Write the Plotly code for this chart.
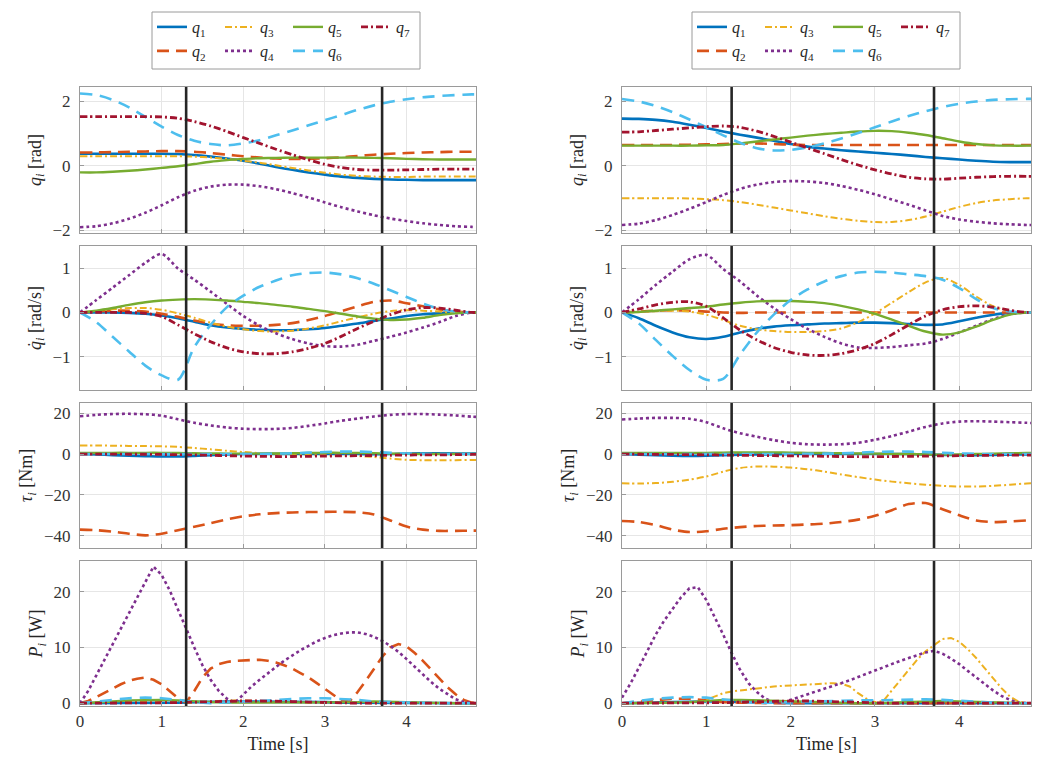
import plotly.graph_objects as go

# ---------------- time grids ----------------
T = [0, 0.2, 0.4, 0.6, 0.8, 1.0, 1.2, 1.4, 1.6, 1.8, 2.0, 2.2, 2.4, 2.6, 2.8,
     3.0, 3.2, 3.4, 3.6, 3.8, 4.0, 4.2, 4.4, 4.6, 4.8, 4.85]
TP = [0, 0.1, 0.2, 0.3, 0.4, 0.5, 0.6, 0.7, 0.8, 0.9, 1.0, 1.1, 1.2, 1.3, 1.4,
      1.5, 1.6, 1.7, 1.8, 1.9, 2.0, 2.1, 2.2, 2.3, 2.4, 2.5, 2.6, 2.7, 2.8, 2.9,
      3.0, 3.1, 3.2, 3.3, 3.4, 3.5, 3.6, 3.7, 3.8, 3.9, 4.0, 4.1, 4.2, 4.3, 4.4,
      4.5, 4.6, 4.7, 4.8, 4.85]
PHASES = [1.3, 3.7]
X_TICKS = [0, 1, 2, 3, 4]

# ---------------- left column: joint positions q_i [rad] ----------------
L_POS_Q1 = [0.38, 0.38, 0.38, 0.38, 0.38, 0.38, 0.37, 0.34, 0.29, 0.23, 0.16, 0.07, -0.03, -0.12, -0.2, -0.27, -0.33, -0.37, -0.4, -0.42, -0.43, -0.44, -0.44, -0.44, -0.44, -0.44]
L_POS_Q2 = [0.42, 0.42, 0.43, 0.44, 0.45, 0.46, 0.46, 0.44, 0.4, 0.35, 0.3, 0.26, 0.23, 0.22, 0.22, 0.24, 0.27, 0.31, 0.35, 0.38, 0.4, 0.42, 0.43, 0.44, 0.44, 0.44]
L_POS_Q3 = [0.3, 0.3, 0.3, 0.3, 0.3, 0.3, 0.3, 0.29, 0.26, 0.22, 0.16, 0.1, 0.02, -0.06, -0.14, -0.21, -0.27, -0.31, -0.33, -0.34, -0.34, -0.33, -0.33, -0.33, -0.33, -0.33]
L_POS_Q4 = [-1.9, -1.87, -1.78, -1.64, -1.45, -1.22, -0.97, -0.77, -0.64, -0.58, -0.58, -0.63, -0.72, -0.84, -0.98, -1.13, -1.28, -1.41, -1.53, -1.63, -1.71, -1.78, -1.83, -1.87, -1.89, -1.9]
L_POS_Q5 = [-0.2, -0.2, -0.18, -0.15, -0.11, -0.06, -0.01, 0.06, 0.13, 0.18, 0.22, 0.24, 0.25, 0.26, 0.26, 0.26, 0.26, 0.26, 0.25, 0.24, 0.22, 0.21, 0.2, 0.2, 0.2, 0.2]
L_POS_Q6 = [2.25, 2.2, 2.05, 1.82, 1.52, 1.22, 0.96, 0.78, 0.68, 0.64, 0.7, 0.8, 0.95, 1.1, 1.26, 1.42, 1.58, 1.74, 1.88, 1.99, 2.07, 2.13, 2.17, 2.2, 2.22, 2.22]
L_POS_Q7 = [1.53, 1.53, 1.53, 1.53, 1.53, 1.52, 1.48, 1.38, 1.24, 1.07, 0.88, 0.7, 0.52, 0.35, 0.19, 0.05, -0.05, -0.11, -0.13, -0.13, -0.12, -0.11, -0.1, -0.1, -0.1, -0.1]

# ---------------- left column: joint velocities [rad/s] ----------------
L_VEL_Q1 = [0, 0, 0, -0.01, -0.03, -0.07, -0.13, -0.21, -0.29, -0.34, -0.37, -0.39, -0.4, -0.4, -0.38, -0.35, -0.3, -0.25, -0.19, -0.14, -0.08, -0.04, -0.02, 0, 0, 0]
L_VEL_Q2 = [0, 0.02, 0.04, 0.04, 0.02, -0.03, -0.1, -0.18, -0.25, -0.29, -0.3, -0.3, -0.28, -0.24, -0.17, -0.08, 0.03, 0.14, 0.24, 0.27, 0.21, 0.14, 0.07, 0.02, 0, 0]
L_VEL_Q3 = [0, 0.03, 0.07, 0.1, 0.1, 0.06, -0.02, -0.12, -0.23, -0.32, -0.38, -0.42, -0.43, -0.41, -0.36, -0.29, -0.2, -0.11, -0.03, 0.03, 0.05, 0.04, 0.02, 0, 0, 0]
L_VEL_Q4 = [0, 0.28, 0.56, 0.84, 1.12, 1.32, 0.99, 0.74, 0.47, 0.19, -0.08, -0.3, -0.47, -0.6, -0.7, -0.76, -0.77, -0.73, -0.64, -0.55, -0.45, -0.34, -0.22, -0.08, 0, 0]
L_VEL_Q5 = [0, 0.04, 0.1, 0.17, 0.23, 0.27, 0.29, 0.3, 0.29, 0.27, 0.24, 0.21, 0.17, 0.13, 0.08, 0.03, -0.03, -0.09, -0.14, -0.17, -0.16, -0.12, -0.06, -0.02, 0, 0]
L_VEL_Q6 = [0, -0.22, -0.55, -0.88, -1.2, -1.42, -1.52, -0.78, -0.28, 0.12, 0.38, 0.58, 0.72, 0.84, 0.89, 0.9, 0.86, 0.77, 0.65, 0.5, 0.35, 0.2, 0.08, 0.02, 0, 0]
L_VEL_Q7 = [0, 0, 0, 0, -0.02, -0.09, -0.28, -0.48, -0.66, -0.8, -0.89, -0.93, -0.93, -0.89, -0.81, -0.7, -0.54, -0.36, -0.2, -0.05, 0.06, 0.11, 0.1, 0.05, 0, 0]

# ---------------- left column: joint torques [Nm] ----------------
L_TAU_Q1 = [0, -0.2, -0.5, -0.8, -1.0, -1.2, -1.2, -0.9, -0.5, -0.2, 0, 0.1, 0.1, 0.1, 0, 0, 0, 0, -0.1, 0, 0.3, 0.4, 0.4, 0.3, 0.2, 0.2]
L_TAU_Q2 = [-37.0, -37.3, -38.0, -39.0, -39.8, -39.0, -37.3, -35.6, -33.8, -32.0, -30.5, -29.5, -28.9, -28.6, -28.4, -28.3, -28.3, -28.5, -29.6, -32.5, -35.5, -37.0, -37.6, -37.6, -37.5, -37.5]
L_TAU_Q3 = [4.2, 4.2, 4.1, 4.0, 3.9, 3.8, 3.5, 3.0, 2.3, 1.6, 1.0, 0.5, 0.1, -0.2, -0.4, -0.6, -0.8, -1.0, -1.4, -2.2, -2.8, -3.0, -3.0, -3.0, -2.9, -2.9]
L_TAU_Q4 = [18.5, 19.2, 19.6, 19.7, 19.5, 18.8, 17.0, 15.3, 14.0, 13.0, 12.4, 12.2, 12.3, 12.8, 13.8, 15.0, 16.3, 17.4, 18.4, 19.2, 19.6, 19.6, 19.3, 18.9, 18.3, 18.2]
L_TAU_Q5 = [0.5, 0.5, 0.6, 0.6, 0.6, 0.6, 0.5, 0.4, 0.3, 0.2, 0.2, 0.2, 0.3, 0.4, 0.5, 0.6, 0.6, 0.5, 0.4, 0.2, 0.1, 0, 0, 0, 0, 0]
L_TAU_Q6 = [0, 0, 0, 0, 0, 0, 0, 0, 0, 0, 0, 0.1, 0.2, 0.4, 0.7, 1.0, 1.2, 1.2, 1.0, 0.6, 0.3, 0.1, 0, 0, 0, 0]
L_TAU_Q7 = [0, 0, 0, -0.1, -0.1, -0.2, -0.3, -0.4, -0.6, -0.8, -1.0, -1.1, -1.2, -1.2, -1.1, -1.0, -0.9, -0.8, -0.7, -0.6, -0.5, -0.4, -0.4, -0.3, -0.2, -0.2]

# ---------------- left column: joint power [W] ----------------
L_POW_Q1 = [0, 0, 0, 0, 0, 0, 0.1, 0.2, 0.3, 0.3, 0.3, 0.3, 0.3, 0.3, 0.2, 0.2, 0.1, 0.1, 0.1, 0.1, 0, 0, 0, 0, 0, 0]
L_POW_Q2 = [0, 0.4, 1.1, 1.9, 2.7, 3.4, 4.0, 4.4, 4.6, 4.2, 3.4, 2.2, 0.9, 0.1, 2.2, 4.6, 6.2, 7.0, 7.4, 7.6,
            7.7, 7.8, 7.8, 7.6, 7.3, 6.8, 6.2, 5.4, 4.6, 3.6, 2.6, 1.5, 0.5, 0.3, 2.0, 4.0, 6.2, 8.3, 10.0, 10.6,
            10.2, 9.0, 7.6, 6.0, 4.4, 2.9, 1.6, 0.6, 0.1, 0]
L_POW_Q3 = [0, 0.1, 0.3, 0.4, 0.4, 0.3, 0.1, 0.1, 0.3, 0.5, 0.5, 0.4, 0.2, 0.1, 0.1, 0.2, 0.2, 0.1, 0, 0, 0, 0, 0, 0, 0, 0]
L_POW_Q4 = [0, 2.2, 5.0, 7.8, 10.6, 13.4, 16.2, 19.0, 21.8, 24.5, 23.0, 20.2, 16.8, 13.3, 10.0, 6.8, 4.2, 2.2, 0.8, 0.1,
            1.5, 3.0, 4.2, 5.4, 6.5, 7.6, 8.6, 9.5, 10.3, 11.1, 11.7, 12.2, 12.5, 12.7, 12.7, 12.4, 11.9, 11.2, 10.3, 9.2,
            7.9, 6.5, 5.1, 3.8, 2.6, 1.6, 0.7, 0.2, 0, 0]
L_POW_Q5 = [0, 0.1, 0.3, 0.5, 0.6, 0.6, 0.5, 0.3, 0.2, 0.1, 0.1, 0.1, 0.1, 0.1, 0.1, 0.1, 0.1, 0.2, 0.3, 0.3, 0.2, 0.1, 0, 0, 0, 0]
L_POW_Q6 = [0, 0.3, 0.7, 0.9, 1.0, 0.9, 0.6, 0.2, 0, 0.1, 0.2, 0.4, 0.6, 0.8, 0.9, 0.9, 0.8, 0.6, 0.3, 0.2, 0.2, 0.1, 0, 0, 0, 0]
L_POW_Q7 = [0, 0, 0, 0, 0, 0, 0.1, 0.2, 0.3, 0.4, 0.4, 0.4, 0.4, 0.3, 0.2, 0.1, 0, 0, 0, 0, 0, 0, 0, 0, 0, 0]

# ---------------- right column: joint positions [rad] ----------------
R_POS_Q1 = [1.47, 1.46, 1.43, 1.37, 1.28, 1.18, 1.07, 0.97, 0.88, 0.78, 0.68, 0.6, 0.54, 0.49, 0.45, 0.41, 0.37, 0.33, 0.28, 0.24, 0.2, 0.16, 0.13, 0.12, 0.12, 0.12]
R_POS_Q2 = [0.65, 0.65, 0.65, 0.65, 0.66, 0.67, 0.68, 0.7, 0.7, 0.68, 0.66, 0.65, 0.65, 0.65, 0.65, 0.65, 0.65, 0.65, 0.65, 0.65, 0.65, 0.65, 0.65, 0.65, 0.65, 0.65]
R_POS_Q3 = [-1.0, -1.0, -1.0, -1.0, -1.01, -1.03, -1.06, -1.12, -1.2, -1.29, -1.38, -1.47, -1.56, -1.64, -1.7, -1.74, -1.74, -1.68, -1.57, -1.42, -1.27, -1.15, -1.07, -1.03, -1.0, -1.0]
R_POS_Q4 = [-1.83, -1.79, -1.68, -1.52, -1.33, -1.12, -0.9, -0.71, -0.58, -0.5, -0.47, -0.48, -0.53, -0.62, -0.74, -0.88, -1.04, -1.2, -1.38, -1.55, -1.66, -1.73, -1.78, -1.81, -1.83, -1.83]
R_POS_Q5 = [0.63, 0.63, 0.63, 0.63, 0.63, 0.64, 0.65, 0.7, 0.76, 0.82, 0.88, 0.94, 0.99, 1.03, 1.07, 1.09, 1.08, 1.03, 0.96, 0.86, 0.76, 0.68, 0.64, 0.63, 0.63, 0.63]
R_POS_Q6 = [2.08, 2.0, 1.86, 1.67, 1.44, 1.2, 0.95, 0.72, 0.55, 0.48, 0.5, 0.58, 0.7, 0.85, 1.02, 1.2, 1.38, 1.55, 1.7, 1.83, 1.93, 2.0, 2.05, 2.07, 2.08, 2.08]
R_POS_Q7 = [1.05, 1.06, 1.1, 1.14, 1.18, 1.22, 1.24, 1.2, 1.08, 0.92, 0.74, 0.56, 0.38, 0.2, 0.03, -0.12, -0.25, -0.35, -0.4, -0.41, -0.38, -0.35, -0.33, -0.32, -0.32, -0.32]

# ---------------- right column: joint velocities [rad/s] ----------------
R_VEL_Q1 = [0, -0.13, -0.3, -0.45, -0.56, -0.6, -0.55, -0.45, -0.37, -0.32, -0.29, -0.27, -0.25, -0.24, -0.23, -0.23, -0.24, -0.26, -0.28, -0.27, -0.2, -0.12, -0.05, -0.01, 0, 0]
R_VEL_Q2 = [0, 0.02, 0.04, 0.05, 0.04, 0.02, 0, -0.01, 0, 0, 0, 0, 0, 0, 0, 0, 0, 0, 0, 0, 0, 0, 0, 0, 0, 0]
R_VEL_Q3 = [0, 0.01, 0.03, 0.04, 0.02, -0.05, -0.17, -0.3, -0.38, -0.42, -0.44, -0.44, -0.42, -0.36, -0.22, -0.02, 0.22, 0.46, 0.68, 0.78, 0.62, 0.36, 0.14, 0.03, 0, 0]
R_VEL_Q4 = [0, 0.3, 0.62, 0.92, 1.2, 1.3, 0.98, 0.7, 0.38, 0.1, -0.15, -0.37, -0.55, -0.7, -0.79, -0.8, -0.78, -0.74, -0.7, -0.6, -0.45, -0.3, -0.15, -0.04, 0, 0]
R_VEL_Q5 = [0, 0.01, 0.04, 0.07, 0.1, 0.13, 0.18, 0.22, 0.25, 0.26, 0.26, 0.24, 0.21, 0.15, 0.07, -0.03, -0.16, -0.3, -0.43, -0.5, -0.45, -0.32, -0.17, -0.05, 0, 0]
R_VEL_Q6 = [0, -0.25, -0.62, -0.98, -1.3, -1.52, -1.5, -0.95, -0.45, -0.05, 0.28, 0.52, 0.7, 0.82, 0.9, 0.92, 0.9, 0.86, 0.82, 0.74, 0.55, 0.3, 0.1, 0.02, 0, 0]
R_VEL_Q7 = [0, 0.08, 0.17, 0.23, 0.24, 0.14, -0.12, -0.4, -0.62, -0.79, -0.9, -0.96, -0.97, -0.93, -0.84, -0.7, -0.5, -0.28, -0.08, 0.06, 0.13, 0.15, 0.12, 0.05, 0, 0]

# ---------------- right column: joint torques [Nm] ----------------
R_TAU_Q1 = [0, -0.3, -0.6, -0.8, -0.9, -0.8, -0.5, -0.3, -0.2, -0.1, 0, 0, 0, 0, 0, 0, 0, 0, -0.2, -0.4, -0.5, -0.5, -0.4, -0.3, -0.2, -0.2]
R_TAU_Q2 = [-32.8, -33.3, -34.8, -37.0, -38.2, -37.8, -36.6, -35.8, -35.2, -35.0, -34.8, -34.5, -34.1, -33.3, -32.1, -30.2, -27.5, -24.5, -24.0, -27.0, -30.0, -32.5, -33.3, -33.0, -32.5, -32.3]
R_TAU_Q3 = [-14.3, -14.4, -14.2, -13.6, -12.5, -11.0, -8.6, -6.8, -6.1, -6.2, -6.6, -7.4, -8.6, -10.0, -11.3, -12.5, -13.5, -14.3, -15.0, -15.6, -15.9, -15.9, -15.6, -15.0, -14.4, -14.3]
R_TAU_Q4 = [16.9, 17.4, 17.7, 17.7, 17.3, 15.6, 12.6, 10.2, 8.5, 6.8, 5.5, 4.8, 4.6, 4.8, 5.5, 7.0, 8.8, 11.0, 13.3, 15.0, 15.9, 16.1, 15.9, 15.6, 15.3, 15.2]
R_TAU_Q5 = [0.6, 0.6, 0.6, 0.6, 0.6, 0.6, 0.7, 0.8, 0.8, 0.8, 0.7, 0.6, 0.5, 0.4, 0.3, 0.2, 0.1, 0, -0.2, -0.3, -0.2, 0, 0.2, 0.4, 0.5, 0.5]
R_TAU_Q6 = [0, 0, 0, 0, 0, 0, 0, 0, 0, 0, 0, 0.1, 0.2, 0.4, 0.7, 1.0, 1.2, 1.2, 1.0, 0.6, 0.3, 0.1, 0, 0, 0, 0]
R_TAU_Q7 = [0, -0.1, -0.2, -0.2, -0.3, -0.4, -0.5, -0.6, -0.7, -0.8, -0.9, -1.0, -1.1, -1.2, -1.3, -1.3, -1.2, -1.1, -1.0, -0.9, -0.8, -0.7, -0.6, -0.5, -0.5, -0.5]

# ---------------- right column: joint power [W] ----------------
R_POW_Q1 = [0, 0, 0.1, 0.2, 0.3, 0.3, 0.3, 0.2, 0.1, 0.1, 0, 0, 0, 0, 0, 0, 0, 0, 0.1, 0.1, 0.1, 0, 0, 0, 0, 0]
R_POW_Q2 = [0, 0.3, 0.6, 0.8, 0.8, 0.5, 0.2, 0.1, 0, 0, 0, 0, 0, 0, 0, 0, 0, 0, 0, 0, 0, 0, 0, 0, 0, 0]
R_POW_Q3 = [0, 0, 0.05, 0.1, 0.1, 0.1, 0.1, 0.05, 0, 0.1, 0.6, 1.2, 1.8, 2.1, 2.3, 2.5, 2.6, 2.8, 3.0, 3.1,
            3.2, 3.3, 3.4, 3.5, 3.6, 3.6, 3.5, 3.0, 1.8, 0.8, 0.2, 0.4, 2.3, 4.2, 6.0, 7.8, 9.3, 10.4, 11.5, 11.7,
            11.0, 9.7, 8.1, 6.3, 4.4, 2.7, 1.2, 0.3, 0, 0]
R_POW_Q4 = [1.0, 3.5, 6.4, 9.4, 12.3, 14.8, 17.0, 19.0, 20.6, 20.8, 18.5, 15.5, 12.3, 9.0, 6.0, 3.6, 2.0, 0.8, 0.2, 0.1,
            0.6, 1.0, 1.5, 2.0, 2.5, 3.0, 3.5, 4.1, 4.7, 5.3, 5.9, 6.5, 7.1, 7.6, 8.1, 8.6, 9.1, 9.4, 8.9, 8.0,
            7.0, 5.8, 4.6, 3.4, 2.3, 1.3, 0.6, 0.1, 0, 0]
R_POW_Q5 = [0, 0, 0, 0.1, 0.2, 0.4, 0.6, 0.6, 0.5, 0.4, 0.3, 0.2, 0.1, 0.1, 0, 0, 0.1, 0.2, 0.3, 0.4, 0.3, 0.2, 0.1, 0, 0, 0]
R_POW_Q6 = [0, 0.4, 0.8, 1.0, 1.1, 1.0, 0.7, 0.3, 0, 0.1, 0.2, 0.3, 0.4, 0.5, 0.5, 0.5, 0.6, 0.7, 0.7, 0.6, 0.4, 0.2, 0.1, 0, 0, 0]
R_POW_Q7 = [0, 0, 0, 0, 0, 0, 0.1, 0.2, 0.3, 0.4, 0.4, 0.4, 0.3, 0.2, 0.1, 0, 0, 0, 0, 0, 0, 0, 0, 0, 0, 0]

JOINT_NAMES = ["<i>q</i><sub>1</sub>", "<i>q</i><sub>2</sub>", "<i>q</i><sub>3</sub>", "<i>q</i><sub>4</sub>",
               "<i>q</i><sub>5</sub>", "<i>q</i><sub>6</sub>", "<i>q</i><sub>7</sub>"]
Y_TITLES = ["<i>q</i><sub><i>i</i></sub> [rad]", "<i>q̇</i><sub><i>i</i></sub> [rad/s]",
            "<i>τ</i><sub><i>i</i></sub> [Nm]", "<i>P</i><sub><i>i</i></sub> [W]"]
Y_TICKS = [[-2, 0, 2], [-1, 0, 1], [-40, -20, 0, 20], [0, 10, 20]]
Y_RANGES = [[-2.08, 2.45], [-1.75, 1.5], [-46, 25], [-0.5, 25.5]]

# ---------------- styling ----------------
COLORS = ["#0072BD", "#D95319", "#EDB120", "#7E2F8E", "#77AC30", "#4DBEEE", "#A2142F"]
DASHES = ["solid", "12px,7px", "7px,3px,2px,3px", "dot", "solid", "12px,8px", "7px,3px,2px,3px"]
WIDTHS = [2.6, 2.6, 2.0, 2.6, 2.4, 2.6, 2.8]
FONT = "Liberation Serif"
W, H = 1038, 765
X_DOM = [[80 / W, 476 / W], [622 / W, 1031 / W]]
Y_DOM = [[1 - 233 / H, 1 - 87 / H], [1 - 390 / H, 1 - 246 / H],
         [1 - 548 / H, 1 - 403 / H], [1 - 706 / H, 1 - 561 / H]]

PANELS = {
    (0, 0): (T, [L_POS_Q1, L_POS_Q2, L_POS_Q3, L_POS_Q4, L_POS_Q5, L_POS_Q6, L_POS_Q7]),
    (1, 0): (T, [L_VEL_Q1, L_VEL_Q2, L_VEL_Q3, L_VEL_Q4, L_VEL_Q5, L_VEL_Q6, L_VEL_Q7]),
    (2, 0): (T, [L_TAU_Q1, L_TAU_Q2, L_TAU_Q3, L_TAU_Q4, L_TAU_Q5, L_TAU_Q6, L_TAU_Q7]),
    (3, 0): (T, [L_POW_Q1, L_POW_Q2, L_POW_Q3, L_POW_Q4, L_POW_Q5, L_POW_Q6, L_POW_Q7]),
    (0, 1): (T, [R_POS_Q1, R_POS_Q2, R_POS_Q3, R_POS_Q4, R_POS_Q5, R_POS_Q6, R_POS_Q7]),
    (1, 1): (T, [R_VEL_Q1, R_VEL_Q2, R_VEL_Q3, R_VEL_Q4, R_VEL_Q5, R_VEL_Q6, R_VEL_Q7]),
    (2, 1): (T, [R_TAU_Q1, R_TAU_Q2, R_TAU_Q3, R_TAU_Q4, R_TAU_Q5, R_TAU_Q6, R_TAU_Q7]),
    (3, 1): (T, [R_POW_Q1, R_POW_Q2, R_POW_Q3, R_POW_Q4, R_POW_Q5, R_POW_Q6, R_POW_Q7]),
}

fig = go.Figure()
layout = dict(
    width=W, height=H, margin=dict(l=0, r=0, t=0, b=0),
    paper_bgcolor="white", plot_bgcolor="white",
    font=dict(family=FONT, size=17, color="#262626"),
    showlegend=True,
)

for (r, c), (tgrid, series) in PANELS.items():
    idx = r * 2 + c + 1
    xa = "x" if idx == 1 else f"x{idx}"
    ya = "y" if idx == 1 else f"y{idx}"
    for j, ys in enumerate(series):
        xs = tgrid if len(ys) == len(tgrid) else TP
        show = (r == 0)
        leg_id = ["legend", "legend2", "legend3", "legend4"][c * 2 + (j % 2)]
        fig.add_trace(go.Scatter(
            x=xs, y=ys, mode="lines", name=JOINT_NAMES[j],
            line=dict(color=COLORS[j], width=WIDTHS[j], dash=DASHES[j],
                      shape="linear" if r == 3 else "spline", smoothing=0.8),
            xaxis=xa, yaxis=ya, showlegend=show, legend=leg_id,
            legendrank=j,
            hoverinfo="skip",
        ))
    axis_common = dict(showgrid=True, gridcolor="#e6e6e6", gridwidth=1,
                       showline=True, linecolor="#9a9a9a", linewidth=1, mirror=True,
                       ticks="inside", ticklen=4, tickcolor="#9a9a9a",
                       zeroline=False, automargin=False)
    xdict = dict(
        domain=X_DOM[c], anchor=ya, range=[0, 4.85], tickvals=X_TICKS,
        showticklabels=(r == 3),
        tickfont=dict(family=FONT, size=17, color="#333"),
        **axis_common)
    if r == 3:
        xdict["title"] = dict(text="Time [s]", standoff=6, font=dict(family=FONT, size=18))
    layout["xaxis" if idx == 1 else f"xaxis{idx}"] = xdict
    layout["yaxis" if idx == 1 else f"yaxis{idx}"] = dict(
        domain=Y_DOM[r], anchor=xa, range=Y_RANGES[r], tickvals=Y_TICKS[r],
        title=dict(text=Y_TITLES[r], standoff=6, font=dict(family=FONT, size=18)),
        tickfont=dict(family=FONT, size=17, color="#333"),
        ticklabelstandoff=5,
        **axis_common)
    for tx in PHASES:
        fig.add_shape(type="line", xref=xa, yref=f"{ya} domain", x0=tx, x1=tx, y0=0, y1=1,
                      line=dict(color="#262626", width=2.6), layer="above")

# legends: two rows per column (4 entries / 3 entries), MATLAB-like box drawn around them
LEG_X = [152 / W, 692 / W]
LEG_ROW_Y = [1 - 27 / H, 1 - 51 / H]
for c in range(2):
    for rr in range(2):
        key = ["legend", "legend2", "legend3", "legend4"][c * 2 + rr]
        layout[key] = dict(
            orientation="h", x=LEG_X[c], xanchor="left", y=LEG_ROW_Y[rr], yanchor="middle",
            entrywidth=23, entrywidthmode="pixels", itemwidth=30,
            bgcolor="rgba(0,0,0,0)", borderwidth=0,
            font=dict(family=FONT, size=16, color="#262626"),
            traceorder="normal",
        )
    fig.add_shape(type="rect", xref="paper", yref="paper",
                  x0=LEG_X[c], x1=LEG_X[c] + 268 / W, y0=1 - 69 / H, y1=1 - 12 / H,
                  line=dict(color="#9a9a9a", width=1), fillcolor="rgba(0,0,0,0)")

fig.update_layout(**layout)
fig.write_html("out.html")
